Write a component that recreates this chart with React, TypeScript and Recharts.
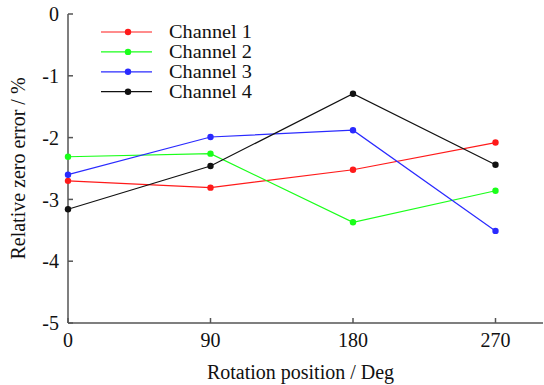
import { LineChart, Line, XAxis, YAxis } from "recharts";

const positions = [0, 90, 180, 270];
const channel1 = [-2.7, -2.81, -2.52, -2.08];
const channel2 = [-2.31, -2.26, -3.37, -2.86];
const channel3 = [-2.6, -1.99, -1.88, -3.51];
const channel4 = [-3.16, -2.46, -1.29, -2.44];
const xTicks = [0, 90, 180, 270];
const yTicks = [0, -1, -2, -3, -4, -5];

const series = [
  { key: "ch1", name: "Channel 1", color: "#ff1a1a" },
  { key: "ch2", name: "Channel 2", color: "#1aff1a" },
  { key: "ch3", name: "Channel 3", color: "#2a2aff" },
  { key: "ch4", name: "Channel 4", color: "#111111" },
];

const data = positions.map((p, i) => ({
  pos: p,
  ch1: channel1[i],
  ch2: channel2[i],
  ch3: channel3[i],
  ch4: channel4[i],
}));

const font = "'Liberation Serif', 'Times New Roman', serif";
const axisColor = "#555";
const tickStyle = { fontSize: 20, fill: "#111", fontFamily: font };

// legend sits inside the plot box, top-left
function LegendBox() {
  return (
    <svg width={190} height={84} style={{ position: "absolute", left: 101, top: 22 }}>
      {series.map((s, i) => {
        const y = 10 + i * 19.9;
        return (
          <g key={s.key}>
            <line x1={0} x2={51} y1={y} y2={y} stroke={s.color} strokeWidth={1.2} />
            <circle cx={27} cy={y} r={3.2} fill={s.color} />
            <text
              x={68}
              y={y + 6}
              fontSize={18}
              textLength={83}
              lengthAdjust="spacingAndGlyphs"
              fontFamily={font}
              fill="#111"
            >
              {s.name}
            </text>
          </g>
        );
      })}
    </svg>
  );
}

export default function App() {
  return (
    <div style={{ position: "absolute", left: 0, top: 0, width: 544, height: 385, background: "#fff" }}>
      <LineChart width={544} height={385} data={data} margin={{ top: 14, right: 1, left: 0, bottom: 0 }}>
        <XAxis
          dataKey="pos"
          type="number"
          domain={[0, 300]}
          ticks={xTicks}
          tick={tickStyle}
          tickSize={-5}
          tickMargin={15}
          stroke={axisColor}
          strokeWidth={1.5}
          height={62}
          label={{
            value: "Rotation position / Deg",
            position: "insideBottom",
            offset: 6,
            dx: -5,
            style: { fontSize: 20, fill: "#111", fontFamily: font },
          }}
        />
        <XAxis
          xAxisId="top"
          dataKey="pos"
          type="number"
          orientation="top"
          domain={[0, 300]}
          ticks={xTicks}
          tickFormatter={() => ""}
          tickSize={-5}
          stroke={axisColor}
          strokeWidth={1.5}
          height={0}
        />
        <YAxis
          type="number"
          domain={[-5, 0]}
          ticks={yTicks}
          tick={tickStyle}
          tickSize={-5}
          tickMargin={14}
          stroke={axisColor}
          strokeWidth={1.5}
          width={68}
          label={{
            value: "Relative zero error / %",
            angle: -90,
            position: "center",
            dx: -16,
            style: { fontSize: 20, fill: "#111", fontFamily: font, textAnchor: "middle" },
          }}
        />
        <YAxis
          yAxisId="right"
          orientation="right"
          type="number"
          domain={[-5, 0]}
          ticks={yTicks}
          tickFormatter={() => ""}
          tickSize={-5}
          stroke={axisColor}
          strokeWidth={1.5}
          width={0}
        />
        {series.map((s) => (
          <Line
            key={s.key}
            dataKey={s.key}
            name={s.name}
            stroke={s.color}
            strokeWidth={1.2}
            dot={{ r: 3.2, fill: s.color, stroke: s.color, strokeWidth: 0 }}
            isAnimationActive={false}
          />
        ))}
      </LineChart>
      <LegendBox />
    </div>
  );
}
